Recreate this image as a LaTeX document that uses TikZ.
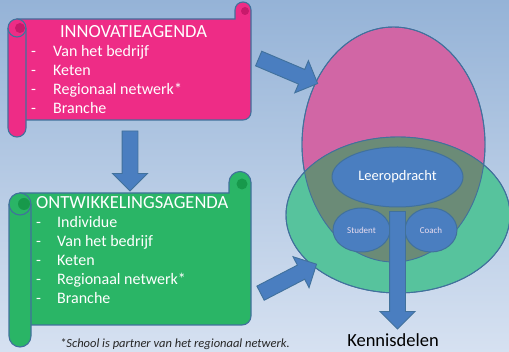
\documentclass[tikz,border=0pt]{standalone}
\usepackage{fontspec}
\setmainfont{Carlito}
\usepackage{tikz}
\usetikzlibrary{calc,shapes.geometric,shapes.arrows}

\definecolor{bgtop}{HTML}{95B3D7}
\definecolor{bgbottom}{HTML}{D6E1F1}
\definecolor{edgeblue}{HTML}{41719C}
\definecolor{scrollpink}{HTML}{EE2C86}
\definecolor{pinkcurl}{HTML}{C8196B}
\definecolor{scrollgreen}{HTML}{2AB566}
\definecolor{greencurl}{HTML}{17994B}
\definecolor{ovalpink}{HTML}{D166A5}
\definecolor{ovalgreen}{HTML}{57C39D}
\definecolor{ovalmix}{HTML}{6B8B77}
\definecolor{boxblue}{HTML}{4A7EC0}
\definecolor{smalltext}{HTML}{EADDEF}

\tikzset{
  scrolledge/.style={draw=edgeblue, line width=1.1pt},
  scrolltitle/.style={inner sep=0pt, text=white, font=\fontsize{18.5}{18.5}\selectfont},
  scrollitem/.style={anchor=base west, inner sep=0pt, text=white, font=\fontsize{16}{16}\selectfont},
  ovaledge/.style={draw=edgeblue, line width=0.9pt},
  blueoval/.style={ellipse, draw=edgeblue, line width=1pt, fill=boxblue, inner sep=0pt},
  blockarrow/.style={single arrow, draw=edgeblue, line width=0.9pt, fill=boxblue,
    inner xsep=0pt, inner ysep=7.5pt, single arrow head extend=9.5pt, minimum width=0pt}
}
\newcommand{\blockarrow}[2]{\path let \p1=($(#2)-(#1)$), \n1={veclen(\x1,\y1)}, \n2={atan2(\y1,\x1)} in
  node[blockarrow, minimum height=\n1, rotate=\n2] at ($(#1)!.5!(#2)$) {};}

\begin{document}
\begin{tikzpicture}[x=1pt,y=1pt]
	\useasboundingbox (0,0) rectangle (509,-352);
	\shade [top color=bgtop, bottom color=bgbottom] (0,0) rectangle (509,-352);
	% innovatieagenda
	\draw [scrolledge, fill=scrollpink] (17,-19) -- (235,-19) -- (235,-10) arc [start angle=180, end angle=0, radius=8] -- (251,-112) arc [start angle=0, end angle=-90, radius=8] -- (17,-120) -- cycle;
	\fill [pinkcurl] (245,-11) circle (4);
	\draw [scrolledge, fill=scrollpink] (8,-28) arc [start angle=180, end angle=0, radius=9] -- (26,-128) arc [start angle=0, end angle=-180, radius=9] -- cycle;
	\fill [pinkcurl] (20,-28) circle (5);
	\draw [scrolledge] (8,-28) arc [start angle=180, end angle=360, radius=9];
	\node [scrolltitle, anchor=base] (innovtitle) at (133.5,-38) {INNOVATIEAGENDA};
	\node [scrollitem] at (31,-57) {-};
	\node [scrollitem] (innov1) at (53,-57) {Van het bedrijf};
	\node [scrollitem] at (31,-76) {-};
	\node [scrollitem] (innov2) at (53,-76) {Keten};
	\node [scrollitem] at (31,-95) {-};
	\node [scrollitem] (innov3) at (53,-95) {Regionaal netwerk*};
	\node [scrollitem] at (31,-114) {-};
	\node [scrollitem] (innov4) at (53,-114) {Branche};
	% ontwikkelingsagenda
	\draw [scrolledge, fill=scrollgreen] (20,-193) -- (229,-193) -- (229,-182.5) arc [start angle=180, end angle=0, radius=11] -- (251,-316) arc [start angle=0, end angle=-90, radius=9] -- (20,-325) -- cycle;
	\fill [greencurl] (242,-184) circle (5.5);
	\draw [scrolledge, fill=scrollgreen] (9,-204) arc [start angle=180, end angle=0, radius=11] -- (31,-336) arc [start angle=0, end angle=-180, radius=11] -- cycle;
	\fill [greencurl] (24,-204) circle (6);
	\draw [scrolledge] (9,-204) arc [start angle=180, end angle=360, radius=11];
	\node [scrolltitle, anchor=base west] (ontwtitle) at (36,-209) {ONTWIKKELINGSAGENDA};
	\node [scrollitem] at (36,-228) {-};
	\node [scrollitem] (ontw1) at (57,-228) {Individue};
	\node [scrollitem] at (36,-247) {-};
	\node [scrollitem] (ontw2) at (57,-247) {Van het bedrijf};
	\node [scrollitem] at (36,-266) {-};
	\node [scrollitem] (ontw3) at (57,-266) {Keten};
	\node [scrollitem] at (36,-285) {-};
	\node [scrollitem] (ontw4) at (57,-285) {Regionaal netwerk*};
	\node [scrollitem] at (36,-304) {-};
	\node [scrollitem] (ontw5) at (57,-304) {Branche};
	\node [anchor=base west, inner sep=0pt, text=black!85, font=\itshape\fontsize{12.5}{12.5}\selectfont] (note) at (60,-348) {*School is partner van het regionaal netwerk.};
	% ovalen
	\coordinate (pinkc) at (393.5,-144.5);
	\coordinate (greenc) at (398,-215);
	\draw [ovaledge, fill=ovalpink] (pinkc) ellipse [x radius=91.5, y radius=117.5];
	\draw [ovaledge, fill=ovalgreen] (greenc) ellipse [x radius=112, y radius=78];
	\begin{scope}
		\clip (pinkc) ellipse [x radius=91.5, y radius=117.5];
		\fill [ovalmix] (greenc) ellipse [x radius=112, y radius=78];
	\end{scope}
	\draw [ovaledge] (pinkc) ellipse [x radius=91.5, y radius=117.5];
	\draw [ovaledge] (greenc) ellipse [x radius=112, y radius=78];
	\node [blueoval, minimum width=131pt, minimum height=60pt, text=white, font=\fontsize{14.5}{14.5}\selectfont] (leer) at (397.5,-177) {Leeropdracht};
	\node [blueoval, minimum width=57pt, minimum height=44pt, text=smalltext, font=\fontsize{9}{9}\selectfont] (student) at (361.5,-230) {Student};
	\node [blueoval, minimum width=52pt, minimum height=44pt, text=smalltext, font=\fontsize{9}{9}\selectfont] (coach) at (431,-230) {Coach};
	\node [anchor=base, inner sep=0pt, font=\fontsize{18.5}{18.5}\selectfont] (kennis) at (393,-347) {Kennisdelen};
	% pijlen
	\coordinate (innovfoot) at (130,-127);
	\coordinate (ontwhead) at (130,-187);
	\coordinate (innovout) at (255,-57);
	\coordinate (pinkin) at (314,-82);
	\coordinate (ontwout) at (257,-295);
	\coordinate (greenin) at (313,-266);
	\coordinate (kennistip) at (397.5,-325);
	\blockarrow{innovfoot}{ontwhead}
	\blockarrow{innovout}{pinkin}
	\blockarrow{ontwout}{greenin}
	\blockarrow{leer.south}{kennistip}
\end{tikzpicture}
\end{document}
